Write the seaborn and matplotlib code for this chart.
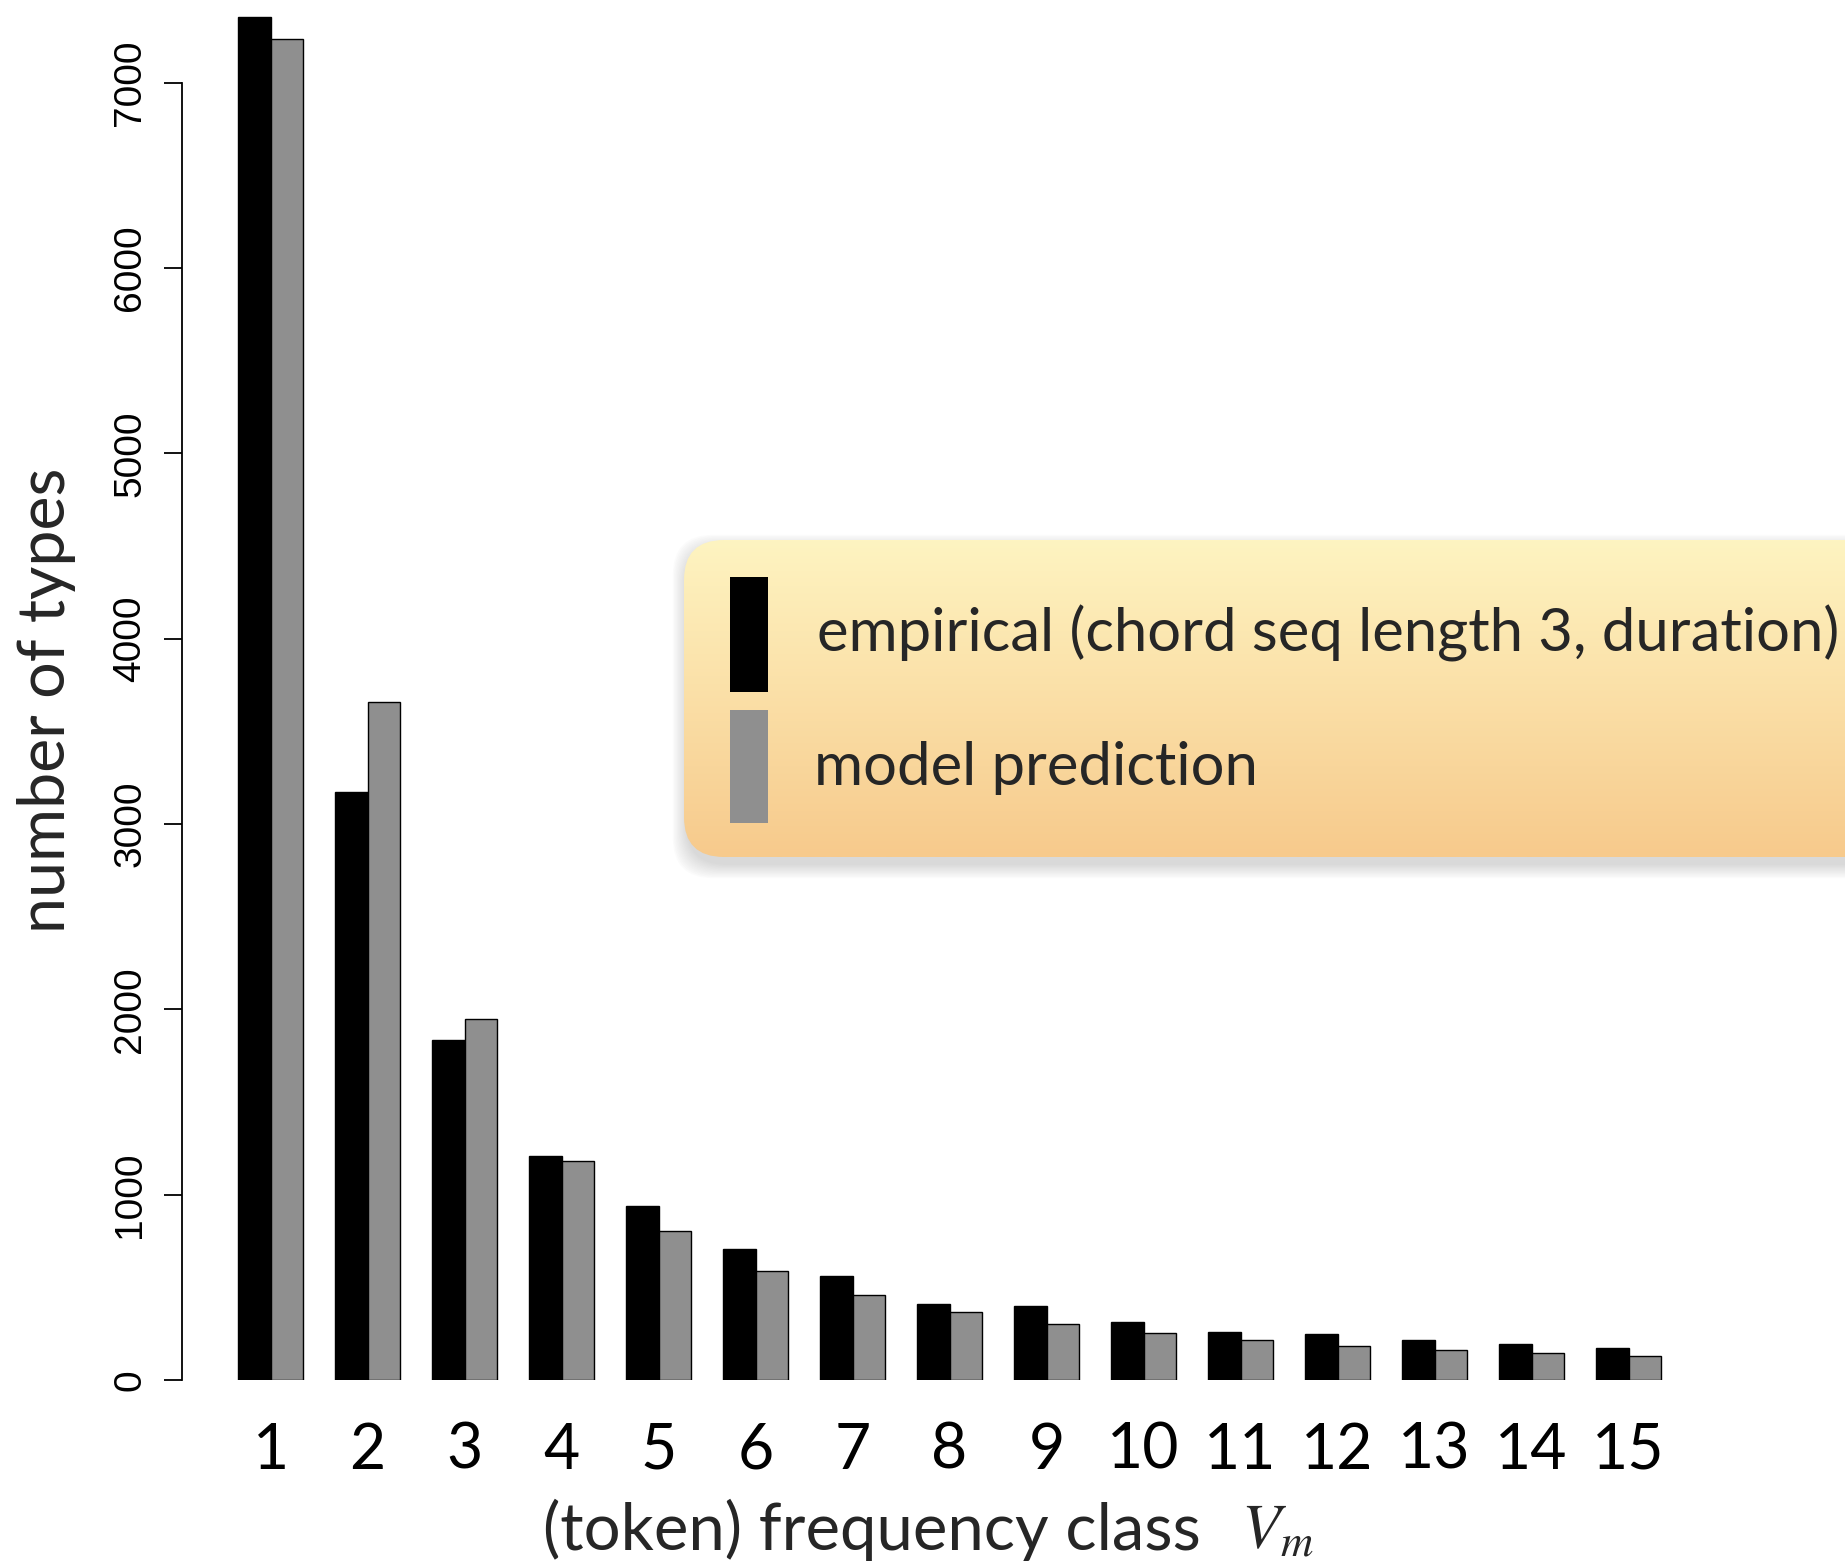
import numpy as np
import pandas as pd
import matplotlib
matplotlib.use("Agg")
import matplotlib.pyplot as plt
import seaborn as sns
from matplotlib.patches import FancyBboxPatch, Rectangle

# DATA
freq_class = [str(i) for i in range(1, 16)]
empirical = [7357, 3173, 1834, 1209, 939, 705, 560, 408, 401, 311, 257, 248, 216, 193, 175]
model = [7237, 3656, 1948, 1183, 806, 590, 457, 365, 300, 252, 216, 185, 164, 145, 130]
y_ticks = [0, 1000, 2000, 3000, 4000, 5000, 6000, 7000]
legend_labels = ["empirical (chord seq length 3, duration)", "model prediction"]

df = pd.DataFrame({
    "m": freq_class * 2,
    "types": empirical + model,
    "series": ["empirical"] * len(empirical) + ["model"] * len(model),
})

# STYLE
sns.set_theme(style="white")
plt.rcParams["font.family"] = ["Lato", "DejaVu Sans"]
plt.rcParams["mathtext.fontset"] = "stix"

W, H = 1845, 1563
fig = plt.figure(figsize=(W / 100, H / 100), dpi=100)

# axes placed in pixel terms
x_spine, x_right = 181.7, 1700
y_zero, y_top = 1380, 10
step_px, c0 = 97.0, 270.6
px_per_val = (1380 - 82.7) / 7000
ax = fig.add_axes([x_spine / W, (H - y_zero) / H,
                   (x_right - x_spine) / W, (y_zero - y_top) / H])

sns.barplot(data=df, x="m", y="types", hue="series",
            palette={"empirical": "black", "model": "#8f8f8f"},
            width=0.67, gap=0, saturation=1, edgecolor="black",
            linewidth=1.0, legend=False, ax=ax)

ax.set_xlim((x_spine - c0) / step_px, (x_right - c0) / step_px)
ax.set_ylim(0, (y_zero - y_top) / px_per_val)
for s in ["top", "right", "bottom"]:
    ax.spines[s].set_visible(False)
ax.spines["left"].set_bounds(0, 7000)
ax.spines["left"].set_linewidth(1.3)
ax.spines["left"].set_color("black")

ax.set_yticks(y_ticks)
ax.set_yticklabels([str(v) for v in y_ticks], rotation=90, va="center",
                   family=["Liberation Sans"], fontsize=28)
ax.tick_params(axis="y", left=True, length=13, width=1.3, pad=11,
               direction="out", colors="black")
ax.tick_params(axis="x", length=0, pad=30, labelsize=45, labelcolor="black")
ax.set_xlabel("")
ax.set_ylabel("")

# axis titles
fig.text(47 / W, 1 - 700 / H, "number of types", rotation=90,
         ha="center", va="center", fontsize=46.5)
fig.text(543 / W, 1 - 1530 / H, "(token) frequency class",
         ha="left", va="center", fontsize=47)
fig.text(1241 / W, 1 - 1530 / H, r"$V_m$", ha="left", va="center", fontsize=46)

# LEGEND BOX (gradient, rounded, shadow)
lax = fig.add_axes([0, 0, 1, 1], zorder=5)
lax.set_xlim(0, W)
lax.set_ylim(H, 0)
lax.axis("off")

bx, by, bw, bh = 684, 540, 1400, 317
for k in range(12):
    sh = FancyBboxPatch((bx + 2, by + 8), bw, bh,
                        boxstyle=f"round,pad={k * 1.2},rounding_size=40",
                        facecolor="#606060", edgecolor="none", alpha=0.018)
    lax.add_patch(sh)
box = FancyBboxPatch((bx, by), bw, bh, boxstyle="round,pad=0,rounding_size=40",
                     facecolor="none", edgecolor="none")
lax.add_patch(box)
top_c = np.array([254, 244, 193]) / 255
bot_c = np.array([247, 202, 140]) / 255
t = np.linspace(0, 1, 256)[:, None, None]
grad = top_c[None, None, :] * (1 - t) + bot_c[None, None, :] * t
img = lax.imshow(grad, extent=[bx, bx + bw, by + bh, by], origin="upper",
                 aspect="auto", zorder=2)
img.set_clip_path(box)

lax.add_patch(Rectangle((730, 577), 38, 115, facecolor="black", edgecolor="none", zorder=3))
lax.add_patch(Rectangle((730, 710), 38, 113, facecolor="#8f8f8f", edgecolor="none", zorder=3))
lax.text(817, 652, legend_labels[0], ha="left", va="baseline", fontsize=43, zorder=4)
lax.text(814, 785, legend_labels[1], ha="left", va="baseline", fontsize=43, zorder=4)

fig.savefig("out.png", dpi=100)
